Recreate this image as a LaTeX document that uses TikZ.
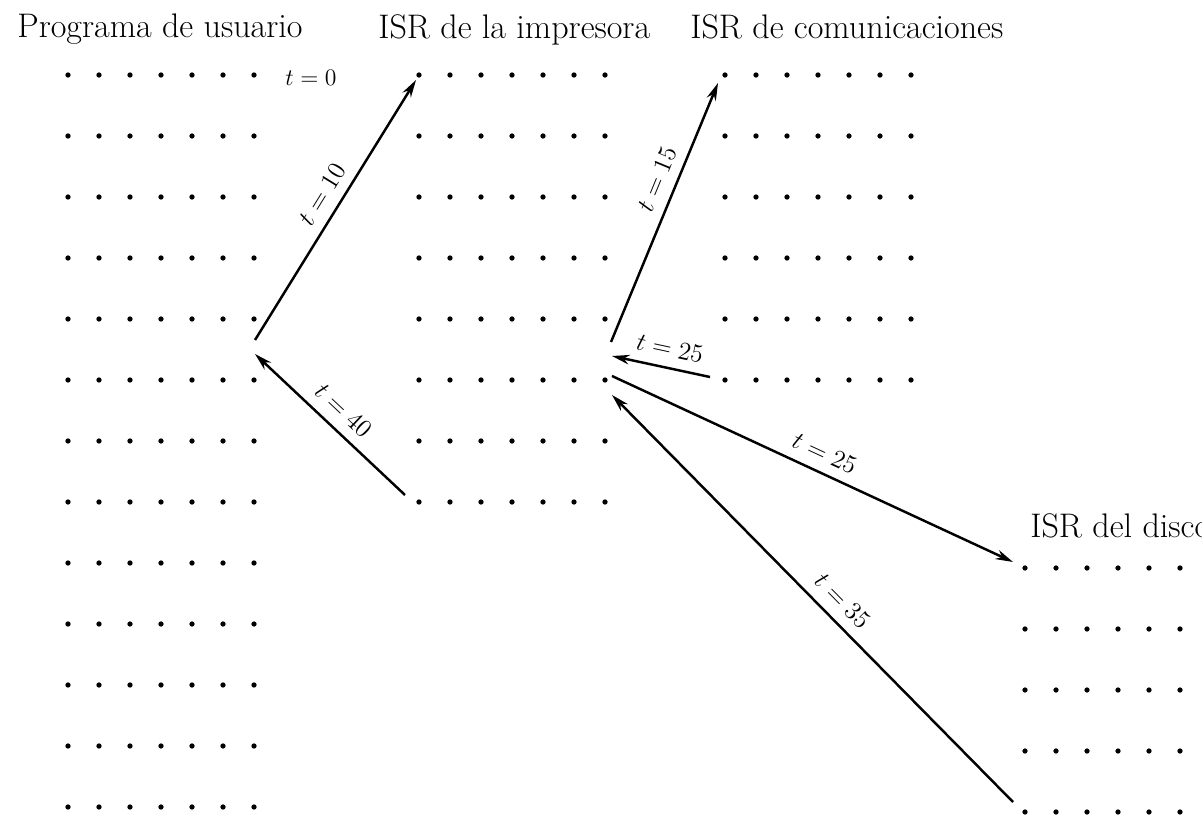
\documentclass[tikz,border=0pt]{standalone}
\usepackage{fix-cm}
\usetikzlibrary{arrows.meta}
\begin{document}
\begin{tikzpicture}[
  x=0.02cm, y=-0.02cm,
  title/.style = {anchor=base west, inner sep=0pt, font=\fontsize{19.4}{21}\selectfont},
  lab/.style   = {font=\fontsize{14.5}{16}\selectfont, sloped, above=2.5pt},
  arr/.style   = {-{Stealth[length=10pt, width=5.5pt]}, line width=1.4pt}
]
\useasboundingbox (0,0) rectangle (1202,817);

% dot grids (x, y, cols-1, rows-1)
\foreach \cx/\cy/\nc/\nr in {68/75/6/12, 419/75/6/7, 725/75/6/5, 1025/568/5/4}
  \foreach \i in {0,...,\nc}
    \foreach \j in {0,...,\nr}
      \fill (\cx+31*\i, \cy+61*\j) circle (1.5pt);

\node[title] (usr) at (17,38)   {Programa de usuario};
\node[title] (imp) at (378,39)  {ISR de la impresora};
\node[title] (com) at (690,39)  {ISR de comunicaciones};
\node[title] (dsc) at (1030,537) {ISR del disco};

\node[font=\fontsize{13.5}{15}\selectfont] (t0) at (311,78) {$t = 0$};

% arrow ends
\coordinate (usrA) at (255,340);
\coordinate (usrB) at (255,354);
\coordinate (impA) at (416,80);
\coordinate (impB) at (405,495);
\coordinate (impC) at (611,342);
\coordinate (impD) at (612,356);
\coordinate (impE) at (612,376);
\coordinate (impF) at (612,395);
\coordinate (comA) at (718,83);
\coordinate (comB) at (710,377);
\coordinate (dscA) at (1013,562);
\coordinate (dscB) at (1013,802);

\draw[arr] (usrA) -- node[lab, pos=0.52] (l10)  {$t = 10$} (impA);
\draw[arr] (impB) -- node[lab, pos=0.5]  (l40)  {$t = 40$} (usrB);
\draw[arr] (impC) -- node[lab, pos=0.6]  (l15)  {$t = 15$} (comA);
\draw[arr] (comB) -- node[lab, pos=0.45] (l25a) {$t = 25$} (impD);
\draw[arr] (impE) -- node[lab, pos=0.51] (l25b) {$t = 25$} (dscA);
\draw[arr] (dscB) -- node[lab, pos=0.46] (l35)  {$t = 35$} (impF);
\end{tikzpicture}
\end{document}
